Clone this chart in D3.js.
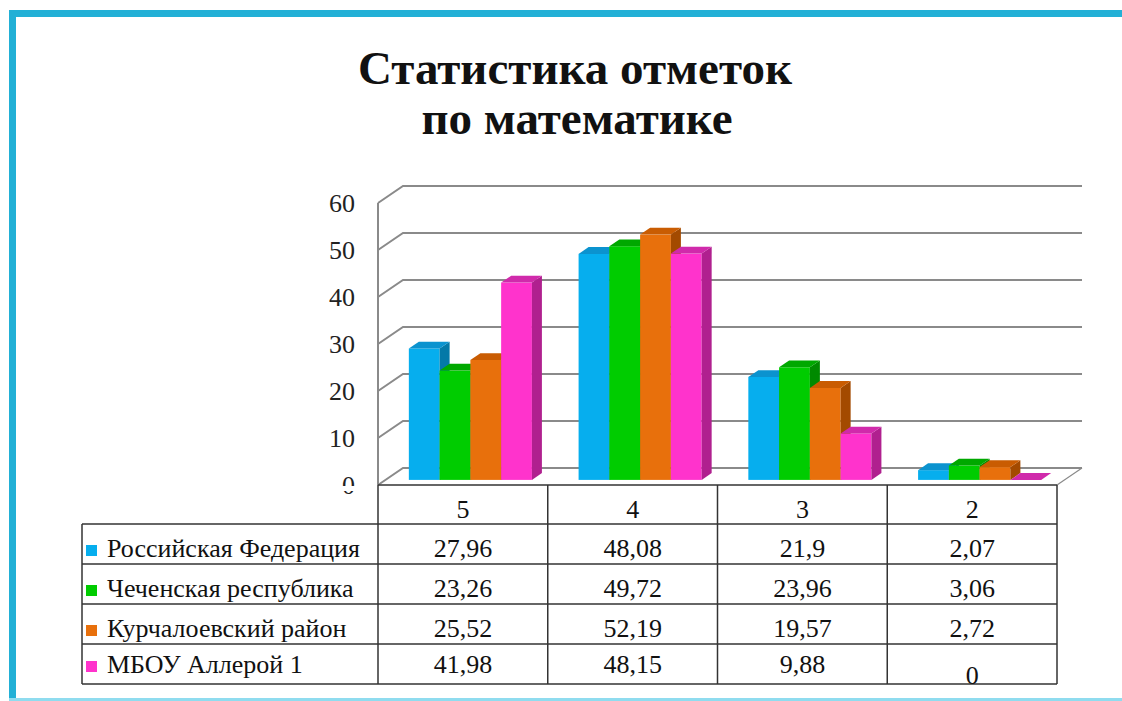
<!DOCTYPE html>
<html>
<head>
<meta charset="utf-8">
<script src="https://cdn.jsdelivr.net/npm/d3@7"></script>
<style>
  html, body { margin: 0; padding: 0; background: #fff; }
  svg { display: block; }
</style>
</head>
<body>
<div id="chart"></div>
<script>
// data
const categories = ["5", "4", "3", "2"];
const seriesNames = ["Российская Федерация", "Чеченская республика", "Курчалоевский район", "МБОУ Аллерой 1"];
const russia   = [27.96, 48.08, 21.9, 2.07];
const chechnya = [23.26, 49.72, 23.96, 3.06];
const kurchaloy = [25.52, 52.19, 19.57, 2.72];
const alleroy  = [41.98, 48.15, 9.88, 0];
const yTicks = [0, 10, 20, 30, 40, 50, 60];

const seriesValues = [russia, chechnya, kurchaloy, alleroy];
const colors = [
  {front: "#06aeee", side: "#0479a8", top: "#0b93cf"},
  {front: "#00cc00", side: "#008a00", top: "#00a800"},
  {front: "#e8700c", side: "#a34a00", top: "#c95c02"},
  {front: "#ff33cc", side: "#b0208f", top: "#d02aab"}
];

const W = 1122, H = 701;
const svg = d3.select("#chart").append("svg")
  .attr("width", W).attr("height", H)
  .style("font-family", "'Liberation Serif', 'Times New Roman', serif");

// frame
svg.append("rect").attr("x", 9).attr("y", 10).attr("width", W - 9).attr("height", 7).attr("fill", "#22b0d6");
svg.append("rect").attr("x", 9).attr("y", 10).attr("width", 7).attr("height", H - 10).attr("fill", "#22b0d6");
svg.append("rect").attr("x", 9).attr("y", 698).attr("width", W - 9).attr("height", 3).attr("fill", "#8fdcef");

// title
const title = svg.append("g")
  .attr("text-anchor", "middle")
  .attr("font-weight", "bold")
  .attr("font-size", 47)
  .attr("fill", "#111");
title.append("text").attr("x", 575).attr("y", 84).text("Статистика отметок");
title.append("text").attr("x", 577).attr("y", 134).text("по математике");

// plot geometry
const left = 378, right = 1057;
const depthX = 25, depthY = -17;

const x0 = d3.scaleBand().domain(categories).range([left, right]).paddingInner(0.275).paddingOuter(0.1375);
const x1 = d3.scaleBand().domain(d3.range(seriesNames.length)).range([0, x0.bandwidth()]);
const y = d3.scaleLinear().domain([0, 60]).range([485, 203]);
const cols = d3.scaleBand().domain(categories).range([left, right]);

const grid = svg.append("g").attr("stroke", "#8a8a8a").attr("stroke-width", 2).attr("fill", "none");
// back wall lines + left wall diagonals
yTicks.forEach(t => {
  grid.append("path").attr("d", `M${left},${y(t)} L${left + depthX},${y(t) + depthY} L${right + depthX},${y(t) + depthY}`);
});
grid.append("line").attr("x1", left).attr("x2", left).attr("y1", y(60)).attr("y2", y(0));
// floor right edge
grid.append("line").attr("x1", right).attr("y1", y(0)).attr("x2", right + depthX).attr("y2", y(0) + depthY)
  .attr("stroke-width", 1.2);

// y labels
const yl = svg.append("g").attr("font-size", 26).attr("fill", "#222").attr("text-anchor", "end");
yTicks.forEach(t => {
  yl.append("text").attr("x", 355).attr("y", y(t)).attr("dy", "0.35em").text(t);
});
// the "0" label is partly hidden in the original
svg.append("rect").attr("x", 336).attr("y", y(0) + 1).attr("width", 22).attr("height", 5).attr("fill", "#fff");

// bars (front face at 30% depth, 40% deep)
const f0 = 0.3, f1 = 0.7;
const bx = depthX * f0, by = depthY * f0;
const sx = depthX * (f1 - f0), sy = depthY * (f1 - f0);
const bars = svg.append("g");
categories.forEach((c, ci) => {
  seriesValues.forEach((vals, si) => {
    const xa = x0(c) + x1(si) + bx;
    const xb = xa + x1.bandwidth();
    const yb = y(0) + by;
    const yt = y(vals[ci]) + by;
    const col = colors[si];
    bars.append("rect").attr("x", xa).attr("y", yt).attr("width", xb - xa).attr("height", yb - yt).attr("fill", col.front);
    bars.append("path").attr("fill", col.side)
      .attr("d", `M${xb},${yt} L${xb + sx},${yt + sy} L${xb + sx},${yb + sy} L${xb},${yb} Z`);
    bars.append("path").attr("fill", col.top)
      .attr("d", `M${xa},${yt} L${xa + sx},${yt + sy} L${xb + sx},${yt + sy} L${xb},${yt} Z`);
  });
});

// data table
const tableLeft = 82;
const headerTop = 485, rowH = 40;
const rowsTop = 524;
const tbl = svg.append("g").attr("stroke", "#333").attr("stroke-width", 1.5);
tbl.append("line").attr("x1", left).attr("x2", right).attr("y1", headerTop).attr("y2", headerTop);
d3.range(seriesNames.length + 1).forEach(i => {
  tbl.append("line").attr("x1", tableLeft).attr("x2", right)
    .attr("y1", rowsTop + i * rowH).attr("y2", rowsTop + i * rowH);
});
tbl.append("line").attr("x1", tableLeft).attr("x2", tableLeft).attr("y1", rowsTop).attr("y2", rowsTop + 4 * rowH);
categories.forEach(c => {
  tbl.append("line").attr("x1", cols(c)).attr("x2", cols(c)).attr("y1", headerTop).attr("y2", rowsTop + 4 * rowH);
});
tbl.append("line").attr("x1", right).attr("x2", right).attr("y1", headerTop).attr("y2", rowsTop + 4 * rowH);

const txt = svg.append("g").attr("font-size", 26).attr("fill", "#111");
categories.forEach(c => {
  txt.append("text").attr("x", cols(c) + cols.bandwidth() / 2).attr("y", 518)
    .attr("text-anchor", "middle").text(c);
});
const fmt = v => String(v).replace(".", ",");
seriesNames.forEach((name, si) => {
  const base = rowsTop + si * rowH + 33 - (si === 3 ? 4 : 0);
  svg.append("rect").attr("x", 86).attr("y", base - 12).attr("width", 11).attr("height", 11).attr("fill", colors[si].front);
  txt.append("text").attr("x", 107).attr("y", base).text(name);
  seriesValues[si].forEach((v, ci) => {
    const dy = (si === 3 && v === 0) ? 11 : 0;
    txt.append("text").attr("x", cols(categories[ci]) + cols.bandwidth() / 2).attr("y", base + dy)
      .attr("text-anchor", "middle").text(fmt(v));
  });
});
</script>
</body>
</html>
